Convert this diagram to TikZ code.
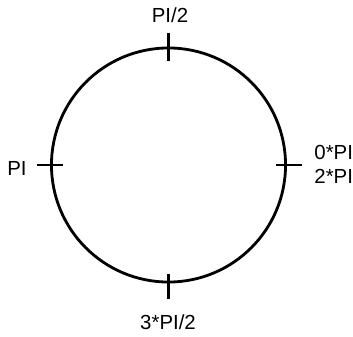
\documentclass[tikz,border=0pt]{standalone}
\usepackage{fontspec}
\setmainfont{Liberation Sans}
\usetikzlibrary{positioning, calc}
\tikzset{
  every picture/.style={line width=2pt},
  ring/.style={draw, circle, minimum size=5.85cm, inner sep=0pt},
  lbl/.style={font=\fontsize{14.5}{17}\selectfont, inner sep=0pt, align=left},
}

\begin{document}
\begin{tikzpicture}[x=0.025cm, y=-0.025cm]
  \useasboundingbox (0,0) rectangle (353,336);
  \node[ring] (ring) at (168.5,165) {};
  % tick marks
  \draw ($(ring.north)+(0,-14)$) -- ($(ring.north)+(0,14)$);
  \draw ($(ring.south)+(0,-9)$) -- ($(ring.south)+(0,16)$);
  \draw ($(ring.west)+(-13,0)$) -- ($(ring.west)+(13,0)$);
  \draw ($(ring.east)+(-11,0)$) -- ($(ring.east)+(15,0)$);
  % labels
  \node[lbl] (half) at (170,15) {PI/2};
  \node[lbl] (pi) at (17,168) {PI};
  \node[lbl, anchor=west] (zero) at (313,164.5) {0*PI\\2*PI};
  \node[lbl] (threehalf) at (168,322) {3*PI/2};
\end{tikzpicture}
\end{document}
